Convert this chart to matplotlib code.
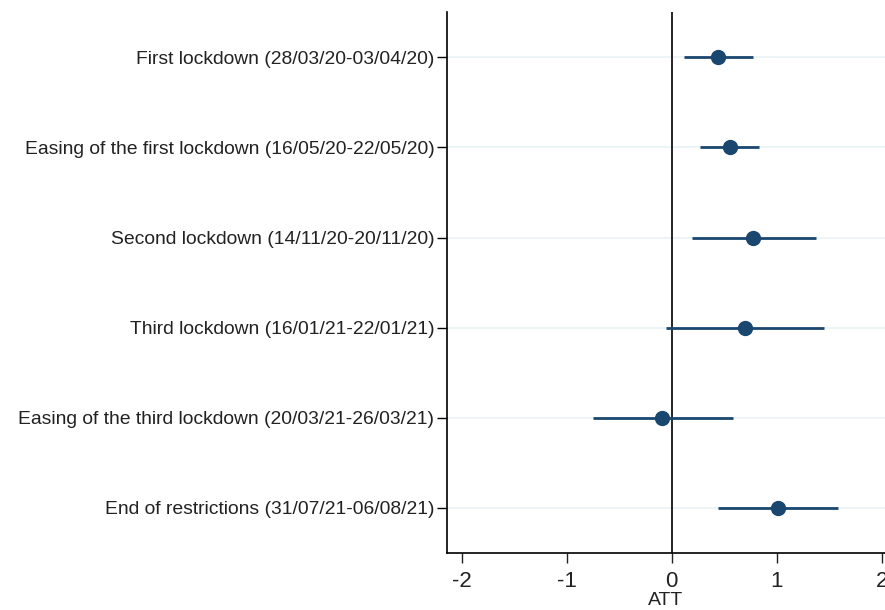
import matplotlib.pyplot as plt
import numpy as np

plt.rcParams['font.family'] = ['Liberation Sans', 'DejaVu Sans']
plt.rcParams['axes.unicode_minus'] = False

# event windows, top to bottom
labels = [
    "First lockdown (28/03/20-03/04/20)",
    "Easing of the first lockdown (16/05/20-22/05/20)",
    "Second lockdown (14/11/20-20/11/20)",
    "Third lockdown (16/01/21-22/01/21)",
    "Easing of the third lockdown (20/03/21-26/03/21)",
    "End of restrictions (31/07/21-06/08/21)",
]
att = [0.44, 0.55, 0.77, 0.70, -0.09, 1.01]
ci_low = [0.12, 0.27, 0.19, -0.05, -0.75, 0.44]
ci_high = [0.77, 0.83, 1.37, 1.45, 0.58, 1.58]

navy = "#1a476f"

fig = plt.figure(figsize=(8.85, 6.1), dpi=100)
ax = fig.add_axes([0.505, 0.0934, 0.495, 0.8866])

ypos = np.arange(len(labels), 0, -1)
for y in ypos:
    ax.axhline(y, color="#eaf2f3", lw=1.2, zorder=0)
ax.axvline(0, color="black", lw=1.2, zorder=1)

ax.hlines(ypos, ci_low, ci_high, color=navy, lw=2, zorder=2)
ax.plot(att, ypos, "o", color=navy, ms=10, zorder=3)

ax.set_xlim(-2.14, 2.03)
ax.set_ylim(0.5, 6.5)
ax.set_xticks([-2, -1, 0, 1, 2])
ax.set_yticks(ypos)
ax.set_yticklabels(labels, fontsize=13.9, color="#222222")
ax.tick_params(axis="x", labelsize=16, length=7, width=1, pad=6, colors="#222222")
ax.tick_params(axis="y", length=7, width=1, pad=2)
ax.set_xlabel("ATT", fontsize=14, labelpad=0, color="#222222")

for s in ["top", "right"]:
    ax.spines[s].set_visible(False)
for s in ["left", "bottom"]:
    ax.spines[s].set_linewidth(1.2)

fig.savefig("out.png", dpi=100)
